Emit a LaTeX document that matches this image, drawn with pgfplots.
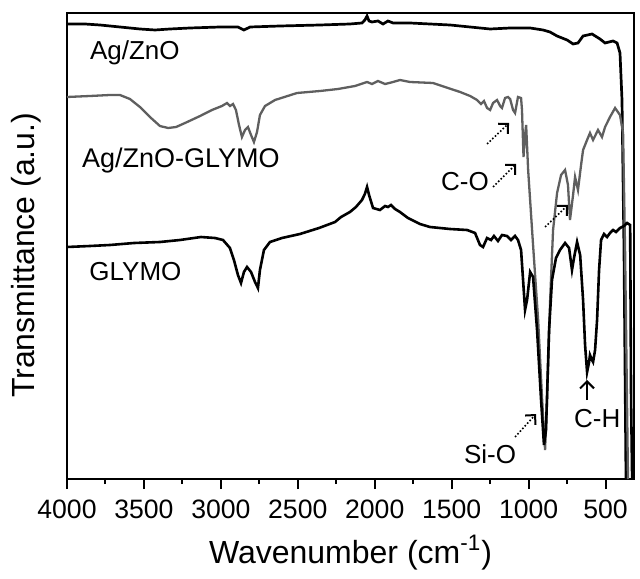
\documentclass[border=0pt]{standalone}
\usepackage{fontspec}
\setmainfont{Liberation Sans}
\usepackage{pgfplots}
\pgfplotsset{compat=1.18}
\usetikzlibrary{arrows.meta}
\definecolor{curvegray}{RGB}{95,95,95}

% FTIR spectra, y in arbitrary units (offset traces)
\pgfplotstableread{
wn val
4000 455
3883 455
3786 454
3656 452
3526 450
3428 449
3331 450
3201 451
3006 452
2889 452
2850 449
2810 452
2616 453
2356 454
2161 455
2083 456
2064 459
2050 463
2037 458
2018 457
1979 458
1946 455
1914 458
1881 456
1770 456
1640 455
1510 454
1380 452
1250 450
1120 451
990 451
906 449
861 447
815 443
750 439
711 435
679 436
646 443
588 445
536 440
503 436
451 438
425 436
406 426
393 379
380 229
367 0
}\agzno

\pgfplotstableread{
wn val
4000 382
3851 383
3721 384
3656 384
3591 380
3526 372
3461 362
3396 353
3343 351
3291 352
3233 356
3135 363
3058 369
2993 373
2960 376
2941 373
2921 375
2902 369
2882 354
2863 342
2843 349
2824 352
2804 344
2785 337
2765 347
2746 364
2713 373
2648 379
2505 386
2356 388
2239 390
2128 393
2050 397
2018 395
1979 398
1933 395
1881 397
1836 399
1771 397
1621 396
1543 392
1445 387
1380 383
1335 379
1309 375
1290 378
1270 371
1250 369
1231 376
1205 379
1185 373
1173 371
1153 381
1134 382
1120 380
1101 369
1088 366
1069 382
1049 381
1043 369
1033 322
1023 344
1016 354
1003 309
971 234
938 159
912 79
893 29
880 79
860 179
841 249
815 286
789 304
763 309
744 294
731 259
711 284
698 302
679 289
659 314
646 329
620 339
601 346
581 339
549 349
523 342
503 352
471 362
438 371
406 364
386 346
373 229
354 0
}\agznoglymo

\pgfplotstableread{
wn val
4000 232
3851 233
3721 234
3565 236
3396 237
3266 239
3129 242
3038 241
2986 239
2941 231
2915 219
2889 204
2869 196
2850 207
2830 212
2804 207
2778 197
2759 191
2746 209
2720 229
2681 237
2603 241
2486 245
2362 251
2258 257
2219 262
2161 267
2122 272
2083 279
2064 285
2050 292
2037 284
2011 271
1966 269
1933 273
1914 272
1894 274
1868 270
1836 267
1784 261
1706 255
1641 252
1511 250
1400 249
1348 246
1316 234
1296 232
1270 241
1244 239
1225 243
1199 238
1173 244
1140 243
1114 239
1088 243
1069 239
1049 229
1036 199
1023 169
1010 179
990 207
971 202
945 149
919 79
900 34
887 49
867 149
848 199
822 221
796 229
763 236
737 231
718 209
705 221
685 237
665 224
646 179
633 134
620 107
607 117
601 124
588 119
581 117
568 129
555 159
542 209
529 239
510 245
490 242
471 246
451 249
432 247
406 251
380 253
360 256
340 254
334 79
327 0
}\glymo

\begin{document}
\begin{tikzpicture}
\begin{axis}[
  at={(0,0)}, anchor=south west,
  scale only axis,
  width=283.5pt, height=233pt,
  x dir=reverse,
  xmin=315, xmax=4000,
  ymin=0, ymax=466,
  xtick={500,1000,...,4000},
  minor x tick num=1,
  ytick=\empty,
  xtick pos=bottom,
  tick align=outside,
  major tick length=5pt,
  minor tick length=2.5pt,
  every tick/.style={black, line width=1pt},
  axis line style={line width=1pt},
  /pgf/number format/1000 sep={},
  /pgf/number format/assume math mode=true,
  xticklabel style={font=\fontsize{13.3}{13.3}\selectfont, yshift=-2pt},
  xlabel={Wavenumber (cm\textsuperscript{-1})},
  ylabel={Transmittance (a.u.)},
  label style={font=\fontsize{16}{16}\selectfont},
  xlabel style={at={(axis description cs:0.5,0)}, anchor=base, yshift=-42pt},
  ylabel style={at={(axis description cs:0,0.48)}, anchor=base, yshift=16pt},
  clip=true,
]
\addplot[black, line width=1.35pt] table[x=wn, y=val] {\agzno};
\addplot[curvegray, line width=1.15pt] table[x=wn, y=val] {\agznoglymo};
\addplot[black, line width=1.3pt] table[x=wn, y=val] {\glymo};

\node[anchor=base west, font=\fontsize{13}{13}\selectfont] at (axis cs:3896,419) {Ag/ZnO};
\node[anchor=base west, font=\fontsize{13.5}{13.5}\selectfont] at (axis cs:3948,311) {Ag/ZnO-GLYMO};
\node[anchor=base west, font=\fontsize{13}{13}\selectfont] at (axis cs:3900,199) {GLYMO};
\node[anchor=base west, font=\fontsize{13}{13}\selectfont] at (axis cs:1614,289) {C-O};
\node[anchor=base west, font=\fontsize{13}{13}\selectfont] at (axis cs:1465,16) {Si-O};
\node[anchor=base west, font=\fontsize{13}{13}\selectfont] at (axis cs:750,52) {C-H};

\draw[densely dotted, line width=0.8pt, -{Straight Barb[length=3.5pt,width=7pt,line width=1pt]}] (axis cs:1270,335) -- (axis cs:1127,356);
\draw[densely dotted, line width=0.8pt, -{Straight Barb[length=3.5pt,width=7pt,line width=1pt]}] (axis cs:1231,292) -- (axis cs:1081,315);
\draw[densely dotted, line width=0.8pt, -{Straight Barb[length=3.5pt,width=7pt,line width=1pt]}] (axis cs:893,252) -- (axis cs:744,274);
\draw[densely dotted, line width=0.8pt, -{Straight Barb[length=3.5pt,width=7pt,line width=1pt]}] (axis cs:1088,42) -- (axis cs:952,65);
\draw[line width=1pt, -{Straight Barb[length=3.5pt,width=7pt,line width=1pt]}] (axis cs:620,79) -- (axis cs:620,99);
\end{axis}
\pgfresetboundingbox
\path[use as bounding box] (-33.5pt,-49.5pt) rectangle (286.5pt,239.5pt);
\end{tikzpicture}
\end{document}
